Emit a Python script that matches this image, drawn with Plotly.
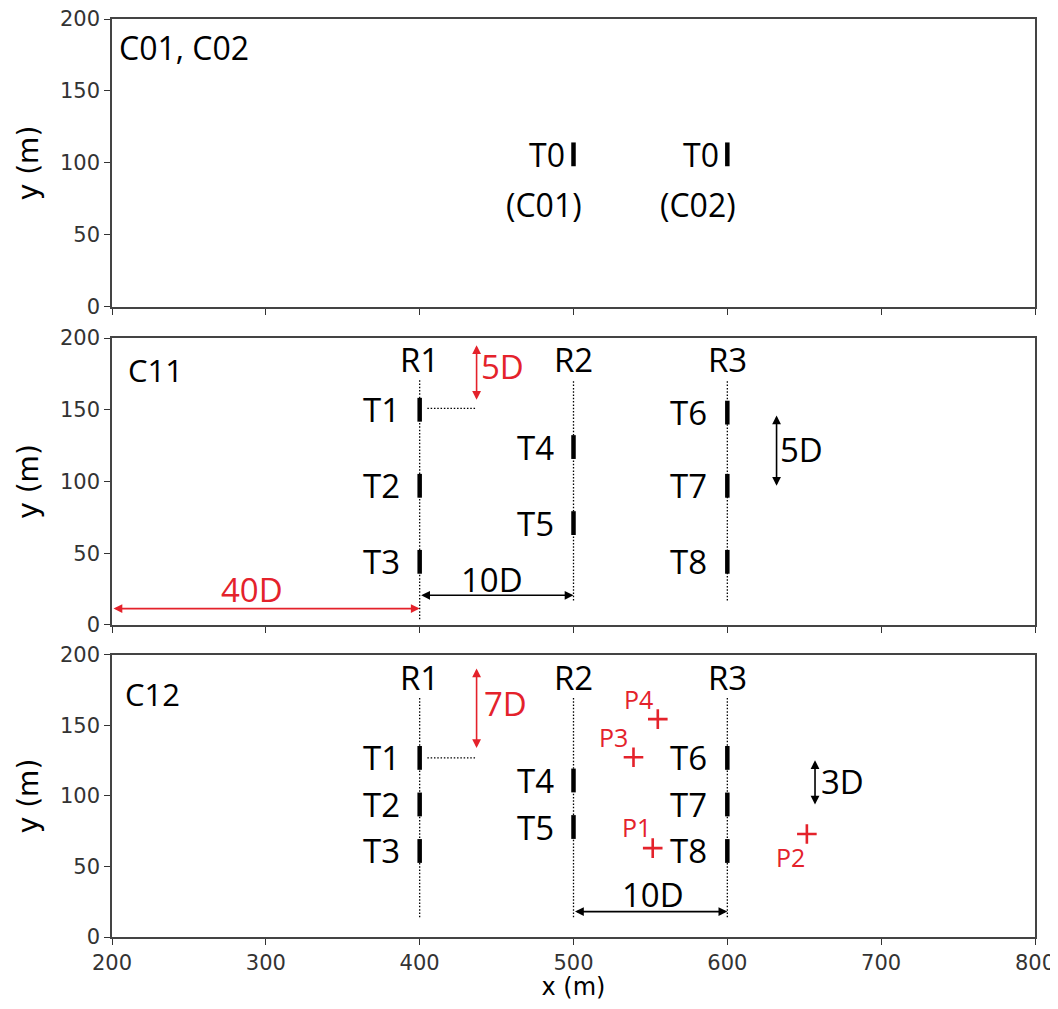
import plotly.graph_objects as go

# ---------------- data ----------------
x_range = [200, 800]
y_range = [0, 200]
x_ticks = [200, 300, 400, 500, 600, 700, 800]
y_ticks = [0, 50, 100, 150, 200]

# panel 1: C01, C02
c0_x = [500, 600]
c0_y = [106, 106]
c0_labels = ["T0", "T0"]
c0_sub = ["(C01)", "(C02)"]

# panel 2: C11
c11_x = [400, 400, 400, 500, 500, 600, 600, 600]
c11_y = [150, 97, 44, 124, 71, 148, 97, 44]
turb_names = ["T1", "T2", "T3", "T4", "T5", "T6", "T7", "T8"]
c11_rows_x = [400, 500, 600]
c11_rows_bottom = [4, 17, 17]
rows_top = [171, 171, 171]
row_names = ["R1", "R2", "R3"]

# panel 3: C12
c12_x = [400, 400, 400, 500, 500, 600, 600, 600]
c12_y = [127, 94, 61, 111, 78, 127, 94, 61]
c12_rows_x = [400, 500, 600]
c12_rows_bottom = [14, 14, 14]
rows_top12 = [170, 170, 170]

probe_x = [551.5, 651.7, 539, 554.8]
probe_y = [63, 73, 127.5, 154.5]
probe_names = ["P1", "P2", "P3", "P4"]
probe_lab_x = [541, 641, 526, 542]
probe_lab_y = [78, 57, 142, 169]

RED = "#e4222b"
FONT = "Open Sans"
TICKFONT = "DejaVu Sans"

fig = go.Figure()

domains = {1: [0.6863, 1.0], 2: [0.3399, 0.6525], 3: [0.0, 0.3072]}

def ax_names(i):
    return ("x" if i == 1 else f"x{i}", "y" if i == 1 else f"y{i}")

def turbines(i, xs, ys):
    xa, ya = ax_names(i)
    fig.add_trace(go.Scatter(x=xs, y=ys, mode="markers", xaxis=xa, yaxis=ya,
                             marker=dict(symbol="line-ns", size=17,
                                         line=dict(width=4.5, color="black")),
                             showlegend=False, hoverinfo="skip"))

def row_lines(i, xs, bottoms, tops):
    xa, ya = ax_names(i)
    for x, b, t in zip(xs, bottoms, tops):
        fig.add_trace(go.Scatter(x=[x, x], y=[b, t], mode="lines", xaxis=xa, yaxis=ya,
                                 line=dict(color="black", width=1.3, dash="1.5px,1.8px"),
                                 showlegend=False, hoverinfo="skip"))

def hdot(i, x0, x1, y):
    xa, ya = ax_names(i)
    fig.add_trace(go.Scatter(x=[x0, x1], y=[y, y], mode="lines", xaxis=xa, yaxis=ya,
                             line=dict(color="black", width=1.3, dash="1.5px,1.8px"),
                             showlegend=False, hoverinfo="skip"))

def text(i, x, y, s, size=33, color="black", xanchor="center"):
    xa, ya = ax_names(i)
    fig.add_annotation(x=x, y=y, xref=xa, yref=ya, text=s, showarrow=False,
                       xanchor=xanchor, yanchor="middle",
                       font=dict(family=FONT, size=size, color=color))

def arrow(i, x0, y0, x1, y1, color="black"):
    xa, ya = ax_names(i)
    fig.add_annotation(x=x1, y=y1, ax=x0, ay=y0, xref=xa, yref=ya, axref=xa, ayref=ya,
                       text="", showarrow=True, arrowside="end+start",
                       arrowhead=2, arrowsize=1.1, arrowwidth=1.6, arrowcolor=color,
                       standoff=0, startstandoff=0)

# ---- panel 1 ----
turbines(1, c0_x, c0_y)
for x, y, s, sub in zip(c0_x, c0_y, c0_labels, c0_sub):
    text(1, x - 17, y, s, size=32)
    text(1, x - 19, y - 35, sub, size=32)
text(1, 203, 180, "C01, C02", size=32, xanchor="left")

# ---- panel 2 ----
row_lines(2, c11_rows_x, c11_rows_bottom, rows_top)
turbines(2, c11_x, c11_y)
for x, y, s in zip(c11_x, c11_y, turb_names):
    text(2, x - 25, y, s)
for x, t, s in zip(c11_rows_x, rows_top, row_names):
    text(2, x, t + 14, s)
text(2, 209, 178, "C11", size=31, xanchor="left")
hdot(2, 405, 437, 151)
arrow(2, 437, 196, 437, 157, RED)
text(2, 454, 180, "5D", color=RED)
arrow(2, 200, 11.4, 400, 11.4, RED)
text(2, 291, 25, "40D", color=RED)
arrow(2, 400, 20.7, 500, 20.7)
text(2, 447, 32, "10D")
arrow(2, 632, 147, 632, 97)
text(2, 648, 122, "5D")

# ---- panel 3 ----
row_lines(3, c12_rows_x, c12_rows_bottom, rows_top12)
turbines(3, c12_x, c12_y)
for x, y, s in zip(c12_x, c12_y, turb_names):
    text(3, x - 25, y, s)
for x, t, s in zip(c12_rows_x, rows_top12, row_names):
    text(3, x, t + 14, s)
text(3, 207, 172, "C12", size=31, xanchor="left")
hdot(3, 405, 437, 127)
arrow(3, 437, 191.5, 437, 134, RED)
text(3, 456, 165.5, "7D", color=RED)
arrow(3, 500, 18, 600, 18)
text(3, 552, 30, "10D")
arrow(3, 657, 126.5, 657, 94)
text(3, 675, 110, "3D")
fig.add_trace(go.Scatter(x=probe_x, y=probe_y, mode="markers", xaxis="x3", yaxis="y3",
                         marker=dict(symbol="cross-thin", size=14,
                                     line=dict(width=2.6, color=RED)),
                         showlegend=False, hoverinfo="skip"))
for x, y, s in zip(probe_lab_x, probe_lab_y, probe_names):
    text(3, x, y, s, size=25, color=RED)

# ---- axes ----
# the page body has an 8px margin, so the figure is sized/placed to compensate
layout = dict(width=1050, height=993, plot_bgcolor="white", paper_bgcolor="white",
              margin=dict(l=104, r=23, t=11, b=64), showlegend=False)
for i in (1, 2, 3):
    xk = "xaxis" if i == 1 else f"xaxis{i}"
    yk = "yaxis" if i == 1 else f"yaxis{i}"
    layout[xk] = dict(domain=[0, 1], anchor="y" if i == 1 else f"y{i}", range=x_range,
                      tickvals=x_ticks, showticklabels=(i == 3), ticks="outside",
                      ticklen=6, tickwidth=1.2, tickcolor="#333", automargin=False,
                      ticklabeloverflow="allow",
                      showline=True, linecolor="#444", linewidth=1.5, mirror=True,
                      showgrid=False, zeroline=False,
                      tickfont=dict(family=TICKFONT, size=21, color="#333"))
    layout[yk] = dict(domain=domains[i], anchor="x" if i == 1 else f"x{i}", range=y_range,
                      tickvals=y_ticks, ticks="outside", ticklen=6, tickwidth=1.2,
                      tickcolor="#333", showline=True, linecolor="#444", linewidth=1.5,
                      mirror=True, showgrid=False, zeroline=False, automargin=False,
                      ticklabeloverflow="allow",
                      tickfont=dict(family=TICKFONT, size=21, color="#333"),
                      title=dict(text="y (m)", standoff=13,
                                 font=dict(family=TICKFONT, size=28, color="black")))
layout["xaxis3"]["title"] = dict(text="x (m)", standoff=7,
                                 font=dict(family=TICKFONT, size=24, color="black"))
fig.update_layout(**layout)

fig.write_html("out.html")
